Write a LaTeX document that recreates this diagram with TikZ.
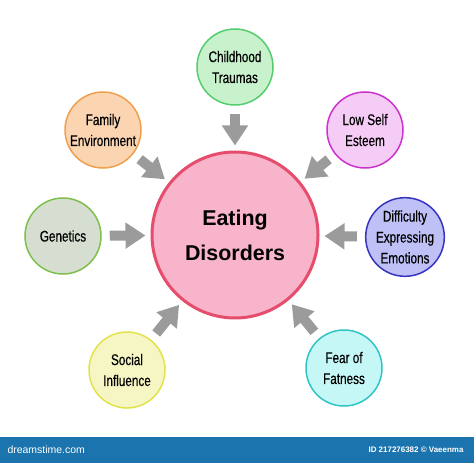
\documentclass[tikz,border=0pt]{standalone}
\usepackage{fontspec}
\setmainfont{Liberation Sans}
\newfontfamily\narrowfont{Liberation Sans}[FakeStretch=0.76, FakeBold=0.4]
\usepackage{xcolor}
\definecolor{edpink}{HTML}{F8B4CA}
\definecolor{edred}{HTML}{E64C6C}
\definecolor{chgreen}{HTML}{C8F2CC}
\definecolor{chline}{HTML}{55CC6E}
\definecolor{faorange}{HTML}{FBD5B2}
\definecolor{faline}{HTML}{EFA04E}
\definecolor{lopink}{HTML}{F5CCF6}
\definecolor{loline}{HTML}{CC33CC}
\definecolor{gegray}{HTML}{D6DED2}
\definecolor{geline}{HTML}{7EC04E}
\definecolor{dilav}{HTML}{BEC0F6}
\definecolor{diline}{HTML}{3535BE}
\definecolor{soyellow}{HTML}{F6F6C4}
\definecolor{soline}{HTML}{E2E24C}
\definecolor{fecyan}{HTML}{C6F7F7}
\definecolor{feline}{HTML}{30C4C4}
\definecolor{arrowgray}{HTML}{9B9B9B}
\definecolor{bannerblue}{HTML}{1B74AE}
\usetikzlibrary{arrows.meta}

\tikzset{
  cause/.style={circle, minimum size=76bp, inner sep=0pt, line width=1.5bp, align=center,
    font=\narrowfont\fontsize{15.5}{21}\selectfont},
  push/.style={draw=arrowgray, line width=10bp, -{Triangle[length=20bp,width=25bp]},
    shorten <=8bp, shorten >=5bp}
}

\begin{document}
\begin{tikzpicture}[x=1bp, y=-1bp]
  \useasboundingbox (0,0) rectangle (474,463);

  % centre
  \node[circle, minimum size=166bp, inner sep=0pt, fill=edpink, draw=edred, line width=3bp,
    align=center, font=\bfseries\fontsize{21.5}{35}\selectfont] (ed) at (235,235) {Eating\\Disorders};

  % causes
  \node[cause, fill=chgreen, draw=chline] (child) at (235,67) {Childhood\\Traumas};
  \node[cause, fill=faorange, draw=faline] (family) at (103,130) {Family\\Environment};
  \node[cause, fill=lopink, draw=loline] (esteem) at (365,130) {Low Self\\Esteem};
  \node[cause, fill=gegray, draw=geline] (genes) at (63,236) {Genetics};
  \node[cause, fill=dilav, draw=diline] (express) at (405,237) {Difficulty\\Expressing\\Emotions};
  \node[cause, fill=soyellow, draw=soline] (social) at (127,370) {Social\\Influence};
  \node[cause, fill=fecyan, draw=feline] (fear) at (344,368) {Fear of\\Fatness};

  % arrows
  \foreach \src in {child, family, esteem, genes, express, social, fear}
    \draw[push] (\src) -- (ed);

  % banner
  \fill[bannerblue] (0,437) rectangle (474,463);
  \node[anchor=west, white, font=\fontsize{10.5}{12}\selectfont] (site) at (4,450) {dreamstime.com};
  \node[anchor=east, white, font=\bfseries\fontsize{8}{9}\selectfont] (credit) at (467,450) {ID 217276382 \textcopyright{} Vaeenma};
\end{tikzpicture}
\end{document}
